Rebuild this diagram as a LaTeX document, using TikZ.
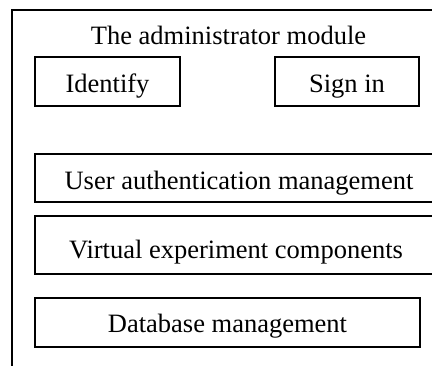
\documentclass[tikz,border=0pt]{standalone}
\usepackage{fontspec}
\setmainfont{Liberation Serif}
\begin{document}
\begin{tikzpicture}[x=1pt,y=-1pt,
  box/.style={draw, line width=1.7pt, rectangle, inner xsep=0pt, inner ysep=0pt, text depth=0pt, font=\fontsize{26.5}{31}\selectfont},
  title/.style={font=\fontsize{26.5}{31}\selectfont, inner sep=0pt}]
\useasboundingbox (0,0) rectangle (432,365);
\clip (0,0) rectangle (432,365);
\coordinate (fbl) at (12,370);
\coordinate (ftl) at (12,10);
\coordinate (ftr) at (440,10);
\draw[line width=1.7pt] (fbl) -- (ftl) -- (ftr);
\node[title, anchor=base] (ttl) at (228.5,44) {The administrator module};
\node[box, minimum width=145pt, minimum height=49pt, text height=21pt] (id) at (107.5,81.5) {Identify};
\node[box, minimum width=144pt, minimum height=49pt, text height=21pt] (sign) at (347,81.5) {Sign in};
\node[box, minimum width=408pt, minimum height=48pt, text height=22pt] (user) at (239,178) {User authentication management};
\node[box, minimum width=402pt, minimum height=58pt, text height=26pt] (virt) at (236,245) {Virtual experiment components};
\node[box, minimum width=385pt, minimum height=49pt, text height=19pt] (db) at (227.5,322.5) {Database management};
\end{tikzpicture}
\end{document}
